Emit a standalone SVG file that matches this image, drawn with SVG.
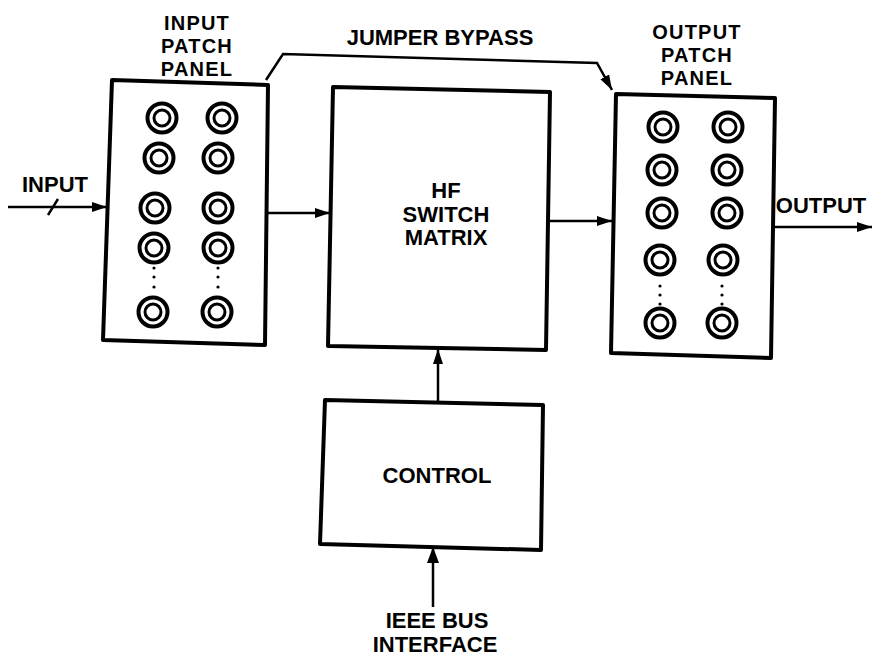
<svg xmlns="http://www.w3.org/2000/svg" width="875" height="658" viewBox="0 0 875 658">
<defs>
<marker id="ah" markerUnits="userSpaceOnUse" markerWidth="16" markerHeight="12" refX="15" refY="5" orient="auto">
<path d="M0,0 L15,5 L0,10 z" fill="#000"/>
</marker>
<marker id="ahb" markerUnits="userSpaceOnUse" markerWidth="18" markerHeight="14" refX="16" refY="6" orient="auto">
<path d="M0,0 L16,6 L0,12 z" fill="#000"/>
</marker>
</defs>
<style>
.box{fill:#fff;stroke:#000;stroke-width:4;stroke-linejoin:round}
.lbl{font-family:"Liberation Sans",Arial,sans-serif;font-weight:bold;font-size:22px;fill:#000;text-anchor:middle}
.stk{font-size:20px;letter-spacing:1.2px}
.jo{fill:none;stroke:#000;stroke-width:4}
.ji{fill:none;stroke:#000;stroke-width:3}
.dot{fill:#000}
.conn{fill:none;stroke:#000;stroke-width:2.5}
</style>
<rect width="875" height="658" fill="#fff"/>
<g id="connectors">
<line class="conn" x1="8" y1="207" x2="107" y2="207" marker-end="url(#ah)"/>
<line class="conn" x1="48" y1="215" x2="58" y2="199"/>
<line class="conn" x1="267" y1="213" x2="330" y2="213" marker-end="url(#ah)"/>
<line class="conn" x1="548" y1="221" x2="612" y2="221" marker-end="url(#ah)"/>
<line class="conn" x1="773" y1="227" x2="872" y2="227" marker-end="url(#ah)"/>
<polyline class="conn" points="266,80 283,54 597,63 612,90" marker-end="url(#ah)"/>
<line class="conn" x1="438" y1="402" x2="438" y2="349" marker-end="url(#ah)"/>
<line class="conn" x1="433" y1="607" x2="433" y2="547" stroke-width="5" marker-end="url(#ahb)"/>
<text class="lbl" x="55" y="192">INPUT</text>
<text class="lbl" x="440" y="45">JUMPER BYPASS</text>
<text class="lbl" x="821" y="213">OUTPUT</text>
<text class="lbl" x="437" y="628">IEEE BUS</text>
<text class="lbl" x="435" y="652">INTERFACE</text>
</g>
<g id="input-patch-panel">
<polygon class="box" points="112,80 268,85 265,345 103,340"/>
<text class="lbl stk" x="197" y="30">INPUT</text>
<text class="lbl stk" x="197" y="53">PATCH</text>
<text class="lbl stk" x="197" y="76">PANEL</text>
<g>
<circle class="jo" cx="162" cy="118" r="14.5"/><circle class="ji" cx="162" cy="118" r="8"/>
<circle class="jo" cx="159" cy="158" r="14.5"/><circle class="ji" cx="159" cy="158" r="8"/>
<circle class="jo" cx="155" cy="208" r="14.5"/><circle class="ji" cx="155" cy="208" r="8"/>
<circle class="jo" cx="154" cy="248" r="14.5"/><circle class="ji" cx="154" cy="248" r="8"/>
<circle class="jo" cx="153" cy="312" r="14.5"/><circle class="ji" cx="153" cy="312" r="8"/>
<circle class="dot" cx="154" cy="268" r="1.6"/><circle class="dot" cx="154" cy="277" r="1.6"/><circle class="dot" cx="154" cy="287" r="1.6"/>
<circle class="jo" cx="222" cy="118" r="14.5"/><circle class="ji" cx="222" cy="118" r="8"/>
<circle class="jo" cx="218" cy="158" r="14.5"/><circle class="ji" cx="218" cy="158" r="8"/>
<circle class="jo" cx="218" cy="208" r="14.5"/><circle class="ji" cx="218" cy="208" r="8"/>
<circle class="jo" cx="218" cy="248" r="14.5"/><circle class="ji" cx="218" cy="248" r="8"/>
<circle class="jo" cx="217" cy="312" r="14.5"/><circle class="ji" cx="217" cy="312" r="8"/>
<circle class="dot" cx="218" cy="268" r="1.6"/><circle class="dot" cx="218" cy="277" r="1.6"/><circle class="dot" cx="218" cy="287" r="1.6"/>
</g>
</g>
<g id="hf-switch-matrix">
<polygon class="box" points="333,87 550,92 546,350 328,346"/>
<text class="lbl" x="446" y="198">HF</text>
<text class="lbl" x="446" y="222">SWITCH</text>
<text class="lbl" x="446" y="245">MATRIX</text>
</g>
<g id="output-patch-panel">
<polygon class="box" points="616,94 775,98 771,358 611,353"/>
<text class="lbl stk" x="697" y="39">OUTPUT</text>
<text class="lbl stk" x="697" y="62">PATCH</text>
<text class="lbl stk" x="697" y="85">PANEL</text>
<g>
<circle class="jo" cx="663" cy="127" r="14.5"/><circle class="ji" cx="663" cy="127" r="8"/>
<circle class="jo" cx="662" cy="170" r="14.5"/><circle class="ji" cx="662" cy="170" r="8"/>
<circle class="jo" cx="662" cy="213" r="14.5"/><circle class="ji" cx="662" cy="213" r="8"/>
<circle class="jo" cx="660" cy="260" r="14.5"/><circle class="ji" cx="660" cy="260" r="8"/>
<circle class="jo" cx="660" cy="323" r="14.5"/><circle class="ji" cx="660" cy="323" r="8"/>
<circle class="dot" cx="660" cy="286" r="1.6"/><circle class="dot" cx="660" cy="295" r="1.6"/><circle class="dot" cx="660" cy="304" r="1.6"/>
<circle class="jo" cx="728" cy="127" r="14.5"/><circle class="ji" cx="728" cy="127" r="8"/>
<circle class="jo" cx="727" cy="170" r="14.5"/><circle class="ji" cx="727" cy="170" r="8"/>
<circle class="jo" cx="727" cy="213" r="14.5"/><circle class="ji" cx="727" cy="213" r="8"/>
<circle class="jo" cx="723" cy="260" r="14.5"/><circle class="ji" cx="723" cy="260" r="8"/>
<circle class="jo" cx="722" cy="323" r="14.5"/><circle class="ji" cx="722" cy="323" r="8"/>
<circle class="dot" cx="722" cy="286" r="1.6"/><circle class="dot" cx="722" cy="295" r="1.6"/><circle class="dot" cx="722" cy="304" r="1.6"/>
</g>
</g>
<g id="control">
<polygon class="box" points="325,400 543,405 541,550 320,544"/>
<text class="lbl" x="437" y="483">CONTROL</text>
</g>
</svg>
